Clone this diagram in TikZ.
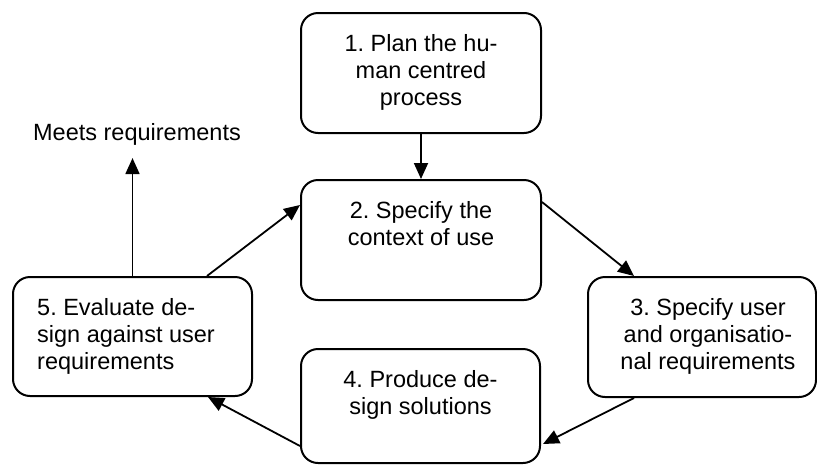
\documentclass[tikz,border=0pt]{standalone}
\usepackage{fontspec}
\setmainfont{Liberation Sans}
\usetikzlibrary{arrows.meta,calc}
\begin{document}
\begin{tikzpicture}[x=1pt,y=-1pt,
  box/.style={draw,line width=2pt,rounded corners=17pt,inner sep=0pt},
  txt/.style={inner sep=0pt,font=\fontsize{23.5}{27}\selectfont\frenchspacing},
  arr/.style={line width=1.8pt,-{Triangle[length=16pt,width=14pt]}}]
\useasboundingbox (0,0) rectangle (817,464);
\node[box,minimum width=240pt,minimum height=120pt] (b1) at (421,73) {};
\node[box,minimum width=240pt,minimum height=120pt] (b2) at (421,240) {};
\node[box,minimum width=228pt,minimum height=120pt] (b3) at (702,337) {};
\node[box,minimum width=239pt,minimum height=114pt] (b4) at (420.5,406) {};
\node[box,minimum width=239pt,minimum height=119pt] (b5) at (132.5,336.5) {};
\node[txt,align=center,anchor=north] (t1) at ($(b1.north)+(0,22)$) {1. Plan the hu-\\man centred\\process};
\node[txt,align=center,anchor=north] (t2) at ($(b2.north)+(0,22)$) {2. Specify the\\context of use};
\node[txt,align=center,anchor=north] (t3) at ($(b3.north)+(6,22)$) {3. Specify user\\and organisatio-\\nal requirements};
\node[txt,align=center,anchor=north] (t4) at ($(b4.north)+(0,22)$) {4. Produce de-\\sign solutions};
\node[txt,align=left,anchor=north west] (t5) at ($(b5.north west)+(25,22)$) {5. Evaluate de-\\sign against user\\requirements};
\node[txt,anchor=base] (m) at (137,140) {Meets requirements};
\coordinate (mt) at ($(m.south)+(0,13)$);
\draw[arr] (b1.south) -- (b2.north);
\draw[arr] ($(b2.north east)+(0,23)$) -- ($(b3.north west)+(47,0)$);
\draw[arr] ($(b3.south west)+(47,0)$) -- ($(b4.south east)+(2,-20)$);
\draw[arr] ($(b4.south west)+(0,-18)$) -- ($(b5.south east)+(-45,0)$);
\draw[arr] ($(b5.north east)+(-46,0)$) -- ($(b2.north west)+(0,26)$);
\draw[arr] (b5.north) -- (b5.north |- mt);
\end{tikzpicture}
\end{document}
